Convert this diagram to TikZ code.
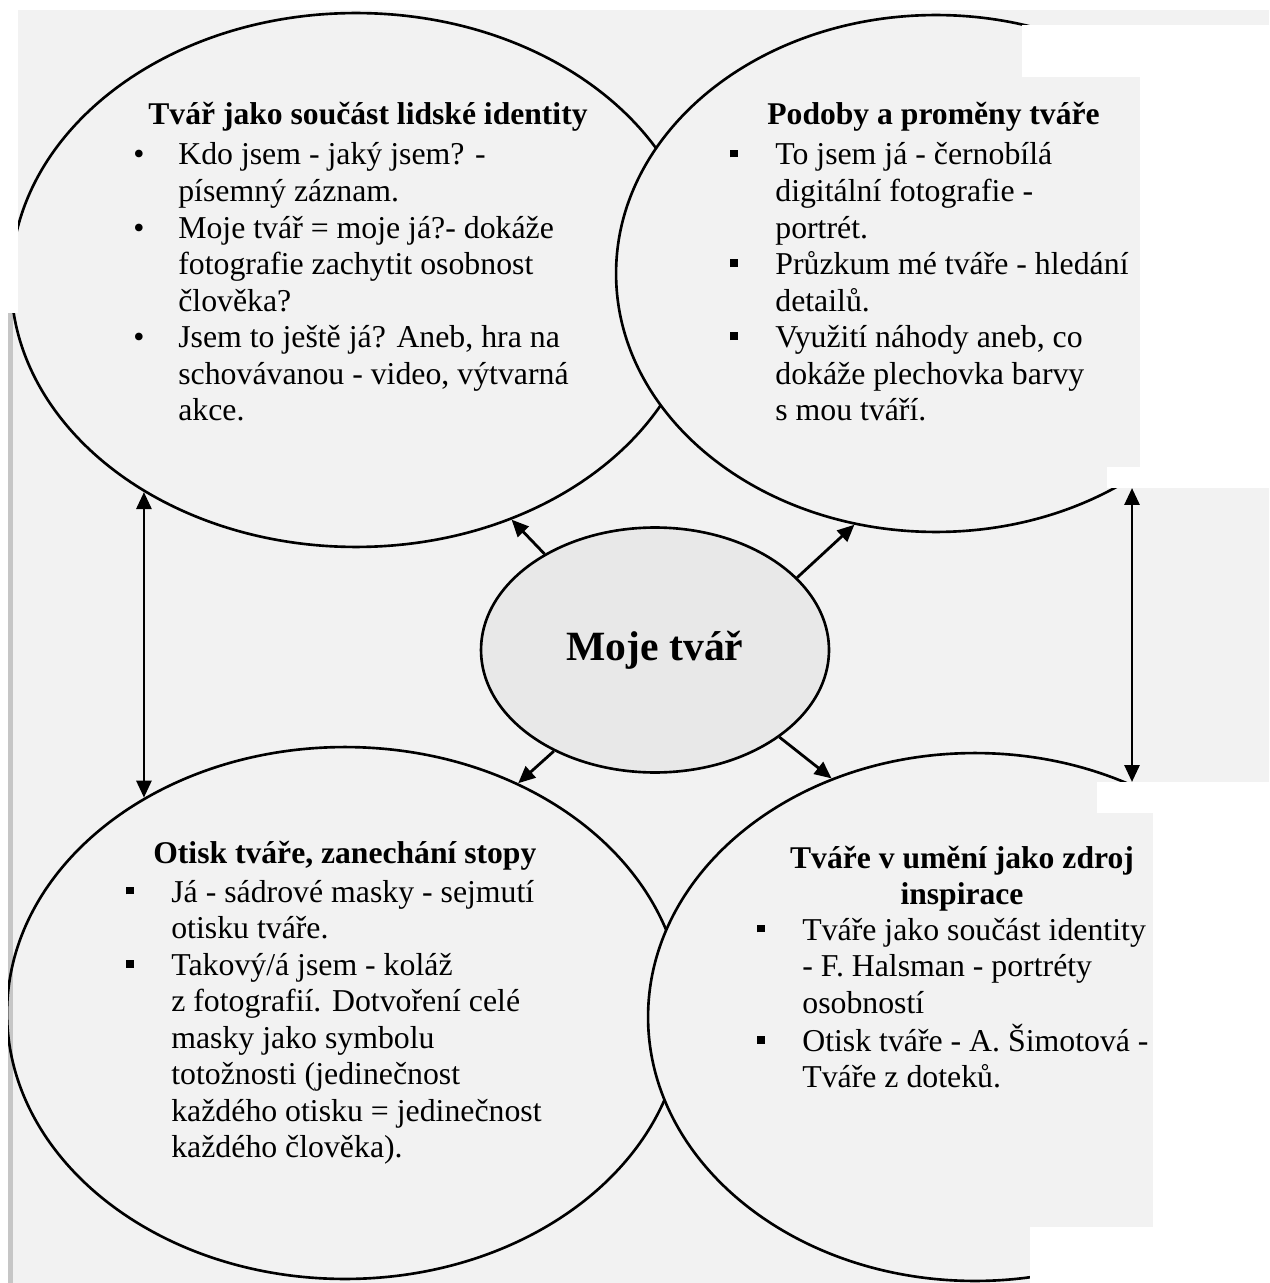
\documentclass[tikz,border=0pt]{standalone}
\usepackage{fontspec}
\setmainfont{Liberation Serif}
\usetikzlibrary{shapes.geometric,arrows.meta}
\definecolor{pagebg}{HTML}{F2F2F2}
\definecolor{centerbg}{HTML}{E8E8E8}
\definecolor{edgebar}{HTML}{C6C6C6}
\newcommand\bodyfont{\fontsize{18.1pt}{20.8pt}\selectfont}
\newcommand\headfont{\fontsize{18pt}{20.8pt}\selectfont\bfseries}
\newcommand\sqb{\rule[4.3pt]{4.4pt}{4.4pt}}
\newcommand\rdb{\textbullet}
\begin{document}
\begin{tikzpicture}[x=0.02cm,y=-0.02cm,
  bubble/.style={ellipse, draw, line width=1.5pt, inner sep=0pt},
  conn/.style={line width=1.6pt, -{Triangle[length=0.34cm,width=0.3cm]}},
  dconn/.style={line width=1.6pt, {Triangle[length=0.34cm,width=0.3cm]}-{Triangle[length=0.34cm,width=0.3cm]}},
  head/.style={anchor=base west, inner sep=0pt, font=\headfont},
  items/.style={anchor=base west, inner sep=0pt, font=\bodyfont},
  patch/.style={fill=white, draw=none}]
\useasboundingbox (0,0) rectangle (1269,1283);
% page background
\fill[white] (0,0) rectangle (1269,1283);
\fill[pagebg] (0,10) rectangle (1269,1283);
\fill[edgebar] (8,310) rectangle (13,1283);
% ellipses
\node[bubble, minimum width=13.8cm, minimum height=10.68cm] (TL) at (356,280) {};
\node[bubble, minimum width=13.52cm, minimum height=10.64cm] (BL) at (345,1013) {};
\node[bubble, fill=pagebg, minimum width=12.8cm, minimum height=10.34cm] (TR) at (936,273.5) {};
\node[bubble, fill=pagebg, minimum width=13.08cm, minimum height=10.56cm] (BR) at (975,1017) {};
\node[bubble, fill=centerbg, minimum width=6.96cm, minimum height=4.9cm,
      font=\fontsize{23.7pt}{28pt}\selectfont\bfseries] (C) at (655,650) {Moje tvář};
% white patches of the scan
\fill[patch] (1022,25) rectangle (1320,77);
\fill[patch] (1140,77) rectangle (1320,467);
\fill[patch] (1107,467) rectangle (1320,488);
\fill[patch] (1097,782) rectangle (1320,813);
\fill[patch] (1153,813) rectangle (1320,1227);
\fill[patch] (1030,1227) rectangle (1320,1300);
\fill[patch] (-20,-20) rectangle (18,313);
\fill[patch] (-20,313) rectangle (8,1300);
% texts
\node[head] (tlh) at (148,125) {Tvář jako součást lidské identity};
\node[items] (tli) at (133,165) {\begin{tabular}[t]{@{}p{0.9cm}@{}l@{}}
\rdb & Kdo jsem - jaký jsem? -\\
 & písemný záznam.\\
\rdb & Moje tvář = moje já?- dokáže\\
 & fotografie zachytit osobnost\\
 & člověka?\\
\rdb & Jsem to ještě já? Aneb, hra na\\
 & schovávanou - video, výtvarná\\
 & akce.
\end{tabular}};
\node[head] (trh) at (767,125) {Podoby a proměny tváře};
\node[items] (tri) at (730,165) {\begin{tabular}[t]{@{}p{0.9cm}@{}l@{}}
\sqb & To jsem já - černobílá\\
 & digitální fotografie -\\
 & portrét.\\
\sqb & Průzkum mé tváře - hledání\\
 & detailů.\\
\sqb & Využití náhody aneb, co\\
 & dokáže plechovka barvy\\
 & s mou tváří.
\end{tabular}};
\node[head] (blh) at (153,863) {Otisk tváře, zanechání stopy};
\node[items] (bli) at (126,902) {\begin{tabular}[t]{@{}p{0.9cm}@{}l@{}}
\sqb & Já - sádrové masky - sejmutí\\
 & otisku tváře.\\
\sqb & Takový/á jsem - koláž\\
 & z fotografií. Dotvoření celé\\
 & masky jako symbolu\\
 & totožnosti (jedinečnost\\
 & každého otisku = jedinečnost\\
 & každého člověka).
\end{tabular}};
\node[anchor=base, inner sep=0pt, font=\headfont] (brh) at (962,868) {\begin{tabular}[t]{@{}c@{}}
Tváře v umění jako zdroj\\
inspirace
\end{tabular}};
\node[items] (bri) at (757,940) {\begin{tabular}[t]{@{}p{0.9cm}@{}l@{}}
\sqb & Tváře jako součást identity\\
 & - F. Halsman - portréty\\
 & osobností\\
\sqb & Otisk tváře - A. Šimotová -\\
 & Tváře z doteků.
\end{tabular}};
% connectors
\draw[conn] (C.139.4) -- (TL.-57.9);
\draw[conn] (C.27.8) -- (TR.-108);
\draw[conn] (C.-135.8) -- (BL.53.2);
\draw[conn] (C.-35.5) -- (BR.121.1);
\draw[dconn] (TL.-135.8) -- (TL.-135.8 |- BL.133.9);
\coordinate (ra) at (1132,488);
\coordinate (rb) at (1132,782);
\draw[dconn] (ra) -- (rb);
\end{tikzpicture}
\end{document}
